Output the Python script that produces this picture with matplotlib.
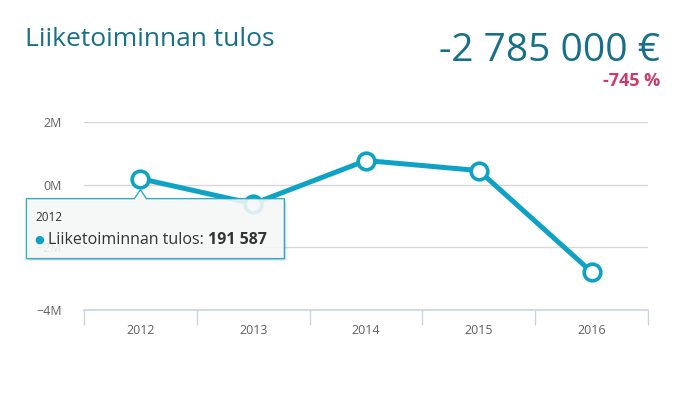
import matplotlib.pyplot as plt
import matplotlib.transforms as mtransforms
from matplotlib.patches import Polygon

# Data
vuodet = ['2012', '2013', '2014', '2015', '2016']
tulos = [191587, -610000, 770000, 450000, -2785000]
y_ticks = [-4, -2, 0, 2]
y_labels = ['\u22124M', '\u22122M', '0M', '2M']
otsikko = 'Liiketoiminnan tulos'
iso_luku = '-2 785 000 \u20ac'
muutos = '-745 %'
tooltip_vuosi = '2012'
tooltip_arvo = '191 587'

viiva = '#0ea3c4'
teksti = '#176f89'
pinkki = '#cc3a6e'

plt.rcParams['font.family'] = ['Open Sans', 'DejaVu Sans']

fig = plt.figure(figsize=(6.91, 3.98), dpi=100)
ax = fig.add_axes([84 / 691, 1 - 310 / 398, (648 - 84) / 691, (310 - 122) / 398])

x = list(range(len(vuodet)))
y = [v / 1e6 for v in tulos]
ax.plot(x, y, color=viiva, lw=3.6, zorder=3, solid_capstyle='round')
ax.plot(x, y, 'o', ms=12, mfc='white', mec=viiva, mew=2.6, zorder=4)

ax.set_xlim(-0.5, len(vuodet) - 0.5)
ax.set_ylim(-4, 2)
ax.set_yticks(y_ticks)
ax.set_yticklabels(y_labels)
ax.set_xticks(x)
ax.set_xticklabels(vuodet)
ax.set_xticks([i - 0.5 for i in range(len(vuodet) + 1)], minor=True)
ax.tick_params(axis='x', which='major', length=0, pad=10, labelsize=9, labelcolor='#606060')
ax.tick_params(axis='x', which='minor', length=11, color='#c8d4e0', width=1)
ax.tick_params(axis='y', length=0, pad=16, labelsize=9, labelcolor='#606060')
for yt in y_ticks[1:]:
    ax.axhline(yt, color='#d8d8d8', lw=1, zorder=1)
for s in ['top', 'right', 'left']:
    ax.spines[s].set_visible(False)
ax.spines['bottom'].set_color('#c8d4e0')
ax.spines['bottom'].set_linewidth(1.2)

# Otsikot
fig.text(25 / 691, 1 - 46 / 398, otsikko, fontsize=19, color=teksti, ha='left', va='baseline')
fig.text(660 / 691, 1 - 61 / 398, iso_luku, fontsize=28, color=teksti, ha='right', va='baseline')
fig.text(660 / 691, 1 - 86 / 398, muutos, fontsize=13, color=pinkki, ha='right', va='baseline',
         fontweight='bold')

# Tooltip 2012 pisteelle (pikseleina suhteessa pisteeseen)
px = mtransforms.Affine2D().scale(0.01) + fig.dpi_scale_trans + \
    mtransforms.ScaledTranslation(x[0], y[0], ax.transData)
kulmat = [(-114, -20), (-6, -20), (0, -11), (6, -20), (144, -20), (144, -80), (-114, -80)]
varjo = Polygon([(a + 2, b - 2) for a, b in kulmat], closed=True, transform=px,
                facecolor='#000000', alpha=0.12, edgecolor='none', zorder=5, clip_on=False)
laatikko = Polygon(kulmat, closed=True, transform=px, facecolor='#fafbfb', alpha=0.88,
                   edgecolor=viiva, lw=1, zorder=6, clip_on=False)
ax.add_patch(varjo)
ax.add_patch(laatikko)
ax.annotate(tooltip_vuosi, xy=(x[0], y[0]), xytext=(-105, -39), textcoords='offset pixels',
            fontsize=8.5, color='#333333', va='center', ha='left', zorder=7)
ax.annotate('\u25cf', xy=(x[0], y[0]), xytext=(-101, -61), textcoords='offset pixels',
            fontsize=8, color=viiva, va='center', ha='center', zorder=7)
nimi = ax.annotate(otsikko + ': ', xy=(x[0], y[0]), xytext=(-92, -61), textcoords='offset pixels',
                   fontsize=11.5, color='#333333', va='center', ha='left', zorder=7)
ax.annotate(tooltip_arvo, xy=(1, 0.5), xycoords=nimi, fontsize=11.5, color='#333333',
            fontweight='bold', va='center', ha='left', zorder=7)

fig.savefig('out.png', dpi=100)
